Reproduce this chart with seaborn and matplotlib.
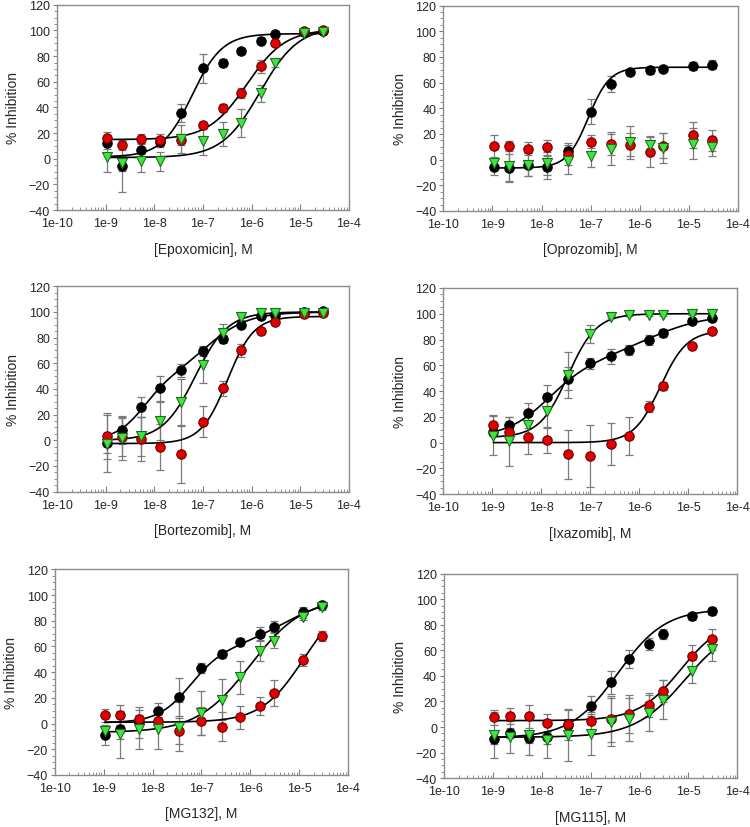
import numpy as np
import seaborn as sns
import matplotlib
matplotlib.use('Agg')
import matplotlib.pyplot as plt
from matplotlib.ticker import LogLocator, FixedLocator, MultipleLocator, FuncFormatter, NullFormatter

# -----------------------------------------------------------------------------
# Data
# -----------------------------------------------------------------------------
dose = [1.06e-9, 2.2e-9, 5.4e-9, 1.3e-8, 3.5e-8, 1.0e-7, 2.6e-7, 6.2e-7, 1.6e-6, 3.0e-6, 1.2e-5, 3.0e-5]

drug_names = ['Epoxomicin', 'Oprozomib', 'Bortezomib', 'Ixazomib', 'MG132', 'MG115']

# Epoxomicin
epox_black = [12, -5.5, 7, 13, 35.5, 70.5, 75, 84, 92, 97, 98.5, 99.5]
epox_black_err = [4, 20, 5, 4, 7, 11.5, 3, 2, 2, 1.5, 1, 1]
epox_red = [16.5, 11, 15.5, 15, 15, 26, 39.5, 51, 72, 90, 99.5, 100.5]
epox_red_err = [4, 4, 4, 4, 4, 3, 3, 4, 5, 2, 1, 1]
epox_green = [1.5, -3.5, -2, -2, 15.5, 13.5, 19.5, 28, 51, 74.5, 98, 99]
epox_green_err = [12, 6, 8, 7.5, 11, 10.5, 9.5, 11, 6.5, 3, 1, 1]

# Oprozomib
opro_black = [-6, -6.5, -4, -6, 7, 37.5, 59, 68.5, 69.5, 71, 73, 74]
opro_black_err = [6, 11, 9, 9, 6, 10, 6, 2, 3, 2, 3, 3.5]
opro_red = [10.5, 10.5, 8.5, 9.5, 3.5, 14, 12.5, 11.5, 6, 11, 19, 15]
opro_red_err = [8.5, 4, 5, 6, 8, 5, 9, 9, 12, 10, 10, 8]
opro_green = [-2.5, -5, -4, -3, -1, 3, 8, 13.5, 11.5, 9, 12.5, 9.5]
opro_green_err = [4, 12, 9, 9, 10, 9, 12, 13, 7, 12, 12, 7]

# Bortezomib
bort_black = [-2, 8, 26, 40.5, 54.5, 69.5, 79, 90, 96.5, 98, 100, 100.5]
bort_black_err = [8, 11, 8, 10, 5, 4, 3, 2, 1.5, 1, 1, 1]
bort_red = [3.5, 2.5, 1, -5.5, -11, 14.5, 40.5, 70, 85, 92, 98.5, 99.5]
bort_red_err = [18, 15, 17, 18, 22, 12, 6, 5, 2, 1.5, 1, 1]
bort_green = [-2.5, 1.5, 3, 15, 30, 58.5, 84, 96, 99, 99, 99, 99]
bort_green_err = [22, 17, 15, 15, 18, 14, 7, 2, 1, 1, 1, 1]

# Ixazomib
ixa_black = [8.5, 13.5, 23, 35.5, 49.5, 61.5, 67, 72, 79.5, 85, 94.5, 97]
ixa_black_err = [3, 6, 8, 9, 9, 4, 6, 4, 4, 3, 2, 2]
ixa_red = [13.5, 8, 4.5, 2, -9, -10.5, -1, 5, 28, 44, 75, 86.5]
ixa_red_err = [8, 5, 13, 10, 19, 24, 16, 15, 4, 3, 1, 1]
ixa_green = [5.5, 1, 14, 24.5, 52.5, 84, 97.5, 99, 99, 99, 100, 100]
ixa_green_err = [15, 19, 3, 13, 18, 7, 1, 1, 1, 1, 1, 1]

# MG132
mg132_black = [-9, -4, 1, 10, 20.5, 43, 54, 63.5, 70, 75.5, 86.5, 92]
mg132_black_err = [8, 8, 12, 6, 15, 4, 3, 3, 5, 4, 4, 2]
mg132_red = [6.5, 6.5, 3.5, 2, -6, 2, -2.5, 5, 13.5, 24, 49.5, 68]
mg132_red_err = [5, 8, 3, 3, 10, 11, 11.5, 9, 7, 10, 5, 4]
mg132_green = [-5.5, -8.5, -4.5, -4.5, -2.5, 8, 18.5, 36, 56.5, 64.5, 83, 90.5]
mg132_green_err = [3, 18, 15, 15, 19, 17, 16, 13, 8, 6, 2, 2]

# MG115
mg115_black = [-9, -4.5, -8.5, -8, 1.5, 16.5, 35, 53, 65, 73, 86.5, 91]
mg115_black_err = [4, 4, 4, 5, 5, 8, 9, 7, 5, 4, 3, 3]
mg115_red = [7.5, 8.5, 8.5, 3, 2, 5, 6, 10, 17, 28, 55.5, 68.5]
mg115_red_err = [6, 6, 9, 7, 12, 7, 18, 15, 9.5, 8.5, 8.5, 8]
mg115_green = [-6, -7.5, -6.5, -10.5, -6.5, -5.5, 4, 6, 11, 21.5, 43.5, 61]
mg115_green_err = [18, 12.5, 15.5, 14, 20, 16, 19, 17, 14, 15, 9, 9.5]

# Fitted dose-response parameters: (bottom, amp, EC50, hill[, amp2, EC50_2, hill2])
epox_fits = [(1.5, 96, 6e-8, 1.4), (15, 86, 8e-7, 1.1), (1, 102, 1.5e-6, 1.1)]
opro_fits = [(-6.5, 78.5, 9e-8, 2.0), None, None]
bort_fits = [(0, 47, 6e-9, 1.5, 53, 1.2e-7, 1.0), (-2.5, 99, 3.2e-7, 1.6), (0, 100, 7e-8, 1.3)]
ixa_fits = [(4, 58, 1.4e-8, 1.0, 38, 1.5e-6, 0.7), (0, 87, 2.7e-6, 1.6), (4, 96, 3.5e-8, 1.5)]
mg132_fits = [(0.5, 57, 6e-8, 1.3, 42, 5e-6, 0.8), (1, 99, 1.25e-5, 1.0), (-7, 105, 1e-6, 0.8)]
mg115_fits = [(-8.5, 101, 3.6e-7, 0.9), (5, 80, 7e-6, 1.0), (-8, 90, 8.5e-6, 0.85)]

panels = [
    ([epox_black, epox_red, epox_green], [epox_black_err, epox_red_err, epox_green_err], epox_fits),
    ([opro_black, opro_red, opro_green], [opro_black_err, opro_red_err, opro_green_err], opro_fits),
    ([bort_black, bort_red, bort_green], [bort_black_err, bort_red_err, bort_green_err], bort_fits),
    ([ixa_black, ixa_red, ixa_green], [ixa_black_err, ixa_red_err, ixa_green_err], ixa_fits),
    ([mg132_black, mg132_red, mg132_green], [mg132_black_err, mg132_red_err, mg132_green_err], mg132_fits),
    ([mg115_black, mg115_red, mg115_green], [mg115_black_err, mg115_red_err, mg115_green_err], mg115_fits),
]

# marker styles for the three series: black circles, red circles, green triangles
series_style = [
    dict(marker='o', color='#000000', edgecolor='#000000', s=46),
    dict(marker='o', color='#e00000', edgecolor='#6e0000', s=46),
    dict(marker='v', color='#3ee63e', edgecolor='#1c6e1c', s=52),
]

# axes rectangles (left, bottom, width, height) in figure fractions
axes_rects = [
    (0.076, 0.745, 0.389, 0.248), (0.591, 0.744, 0.393, 0.248),
    (0.076, 0.405, 0.389, 0.248), (0.591, 0.402, 0.392, 0.249),
    (0.073, 0.063, 0.391, 0.248), (0.592, 0.059, 0.391, 0.247),
]


def dose_curve(x, fit):
    y = np.full_like(x, fit[0], dtype=float)
    for amp, ec, h in zip(fit[1::3], fit[2::3], fit[3::3]):
        y = y + amp / (1 + (ec / x) ** h)
    return y


# -----------------------------------------------------------------------------
# Plot
# -----------------------------------------------------------------------------
sns.set_style('ticks')
plt.rcParams['font.family'] = ['Liberation Sans', 'DejaVu Sans']

fig = plt.figure(figsize=(7.5, 8.28), dpi=100)
xs = np.logspace(np.log10(dose[0]), np.log10(dose[-1]), 300)

for name, (vals, errs, fits), rect in zip(drug_names, panels, axes_rects):
    ax = fig.add_axes(rect)
    ax.set_xscale('log')

    for v, e in zip(vals, errs):
        ax.errorbar(dose, v, yerr=e, fmt='none', ecolor='#7a7a7a', elinewidth=0.9,
                    capsize=3, capthick=0.9, zorder=1)

    for fit in fits:
        if fit is not None:
            sns.lineplot(x=xs, y=dose_curve(xs, fit), ax=ax, color='black', lw=1.2, zorder=2)

    for v, st in zip(vals, series_style):
        sns.scatterplot(x=dose, y=v, ax=ax, marker=st['marker'], color=st['color'],
                        edgecolor=st['edgecolor'], s=st['s'], linewidth=0.8, zorder=3)

    ax.set_xlim(1e-10, 1e-4)
    ax.set_ylim(-40, 120)
    ax.xaxis.set_major_locator(FixedLocator([1e-10, 1e-9, 1e-8, 1e-7, 1e-6, 1e-5, 1e-4]))
    ax.xaxis.set_major_formatter(FuncFormatter(lambda v, p: '1e%d' % round(np.log10(v))))
    ax.xaxis.set_minor_locator(LogLocator(base=10, subs=np.arange(2, 10), numticks=20))
    ax.xaxis.set_minor_formatter(NullFormatter())
    ax.yaxis.set_major_locator(MultipleLocator(20))
    ax.yaxis.set_minor_locator(MultipleLocator(5))

    ax.tick_params(axis='x', which='major', direction='in', length=4, width=0.8,
                   color='#808080', labelsize=9, pad=5)
    ax.tick_params(axis='x', which='minor', direction='in', length=2.5, width=0.6, color='#808080')
    ax.tick_params(axis='y', which='major', direction='out', length=3, width=0.8,
                   color='#808080', labelsize=9, pad=2)
    ax.tick_params(axis='y', which='minor', direction='out', length=2, width=0.6, color='#808080')

    for sp in ax.spines.values():
        sp.set_color('#8c8c8c')
        sp.set_linewidth(1.0)

    ax.set_xlabel('[%s], M' % name, fontsize=10, labelpad=9)
    ax.set_ylabel('% Inhibition', fontsize=10, labelpad=6)
    if ax.get_legend() is not None:
        ax.get_legend().remove()

plt.savefig('out.png', dpi=100)
